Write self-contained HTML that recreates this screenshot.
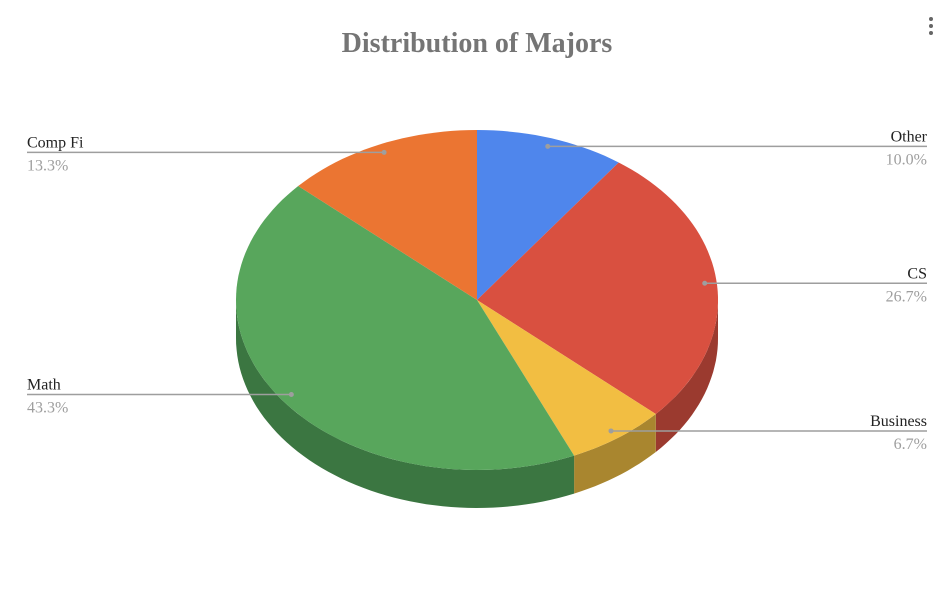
<!DOCTYPE html>
<html><head><meta charset="utf-8"><style>
body{margin:0;background:#fff;width:950px;height:584px;overflow:hidden;font-family:"Liberation Serif",serif}
</style></head><body>
<svg width="950" height="584" id="chart">
<text x="477" y="52" text-anchor="middle" font-family="Liberation Serif" font-weight="bold" font-size="28" fill="#757575">Distribution of Majors</text>
<g fill="#666"><circle cx="931" cy="19" r="2"/><circle cx="931" cy="26" r="2"/><circle cx="931" cy="33" r="2"/></g>
<g id="sides"></g><g id="tops"></g><g id="labels"></g>
</svg>
<script>
const categories=["Other","CS","Business","Math","Comp Fi"];
const values=[10.0,26.7,6.7,43.3,13.3];
const colors=["#4f86ec","#d95040","#f2be42","#58a65c","#eb7532"];
const sideColors=["#2f5fb8","#9b3a2f","#a9862f","#3b7641","#a8531f"];
const cx=477,cy=300,rx=241,ry=170,depth=38;
const NS="http://www.w3.org/2000/svg";
const total=values.reduce((a,b)=>a+b,0);
function pt(deg,dy){const r=deg*Math.PI/180;return [cx+rx*Math.sin(r),cy-ry*Math.cos(r)+(dy||0)];}
function arcPts(a,b,dy){const p=[];const n=Math.max(2,Math.ceil((b-a)/2));for(let i=0;i<=n;i++)p.push(pt(a+(b-a)*i/n,dy));return p;}
const sides=document.getElementById('sides'),tops=document.getElementById('tops'),labels=document.getElementById('labels');
let acc=0;
values.forEach((v,i)=>{
  const a=acc/total*360,b=(acc+v)/total*360;acc+=v;
  const s=Math.max(a,90),e=Math.min(b,270);
  if(e>s){
    const top=arcPts(s,e,0),bot=arcPts(s,e,depth).reverse();
    const d="M"+top.concat(bot).map(p=>p[0].toFixed(1)+","+p[1].toFixed(1)).join("L")+"Z";
    const sp=document.createElementNS(NS,'path');sp.setAttribute('d',d);sp.setAttribute('fill',sideColors[i]);
    
    
    sides.appendChild(sp);
  }
  const pts=arcPts(a,b,0);
  const d="M"+cx+","+cy+"L"+pts.map(p=>p[0].toFixed(1)+","+p[1].toFixed(1)).join("L")+"Z";
  const p=document.createElementNS(NS,'path');p.setAttribute('d',d);p.setAttribute('fill',colors[i]);
  
  
  tops.appendChild(p);
  const m=(a+b)/2,mr=m*Math.PI/180;
  const dx=cx+rx*0.95*Math.sin(mr),dyy=cy-ry*0.95*Math.cos(mr);
  const right=Math.sin(mr)>0;
  const x2=right?927:27;
  const g=document.createElementNS(NS,'g');
  
  
  const anch=right?'end':'start';
  g.innerHTML=`<line x1="${dx}" y1="${dyy}" x2="${x2}" y2="${dyy}" stroke="#9e9e9e" stroke-width="1.5"/><circle cx="${dx}" cy="${dyy}" r="2.5" fill="#9e9e9e"/>`+
   `<text x="${x2}" y="${dyy-5}" text-anchor="${anch}" font-size="16" fill="#222">${categories[i]}</text>`+
   `<text x="${x2}" y="${dyy+18}" text-anchor="${anch}" font-size="16" fill="#9e9e9e">${v.toFixed(1)}%</text>`;
  labels.appendChild(g);
});
</script>
</body></html>
